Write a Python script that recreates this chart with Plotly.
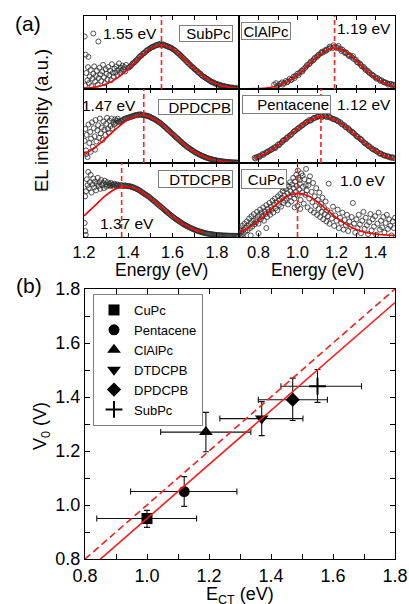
import plotly.graph_objects as go

FONT = "Liberation Sans, Arial, sans-serif"
W, H = 409, 604

# ======================= Panel (a): EL spectra (energy eV, intensity a.u.) =======================
subpc_pts = [(1.203,0.72),(1.242,0.76),(1.265,0.65),(1.208,0.47),(1.220,0.44),(1.205,0.05),(1.210,0.22),(1.215,0.12),
    (1.218,0.30),(1.222,0.08),(1.226,0.17),(1.230,0.26),(1.234,0.04),(1.238,0.14),(1.242,0.21),(1.246,0.31),(1.250,0.10),
    (1.254,0.18),(1.258,0.25),(1.262,0.06),(1.266,0.15),(1.270,0.29),(1.274,0.20),(1.278,0.11),(1.282,0.24),(1.286,0.33),
    (1.290,0.16),(1.294,0.08),(1.298,0.27),(1.302,0.21),(1.306,0.13),(1.310,0.30),(1.314,0.19),(1.318,0.25),(1.322,0.12),
    (1.326,0.34),(1.330,0.22),(1.334,0.17),(1.338,0.28),(1.342,0.23),(1.346,0.31),(1.350,0.19),(1.354,0.26),(1.358,0.35),
    (1.362,0.22),(1.366,0.29),(1.370,0.25),(1.374,0.32),(1.378,0.27),(1.382,0.30),(1.386,0.24),(1.390,0.33),
    (1.40,0.29),(1.41,0.31),(1.42,0.35),(1.43,0.37),(1.44,0.40),(1.45,0.44),(1.46,0.46),(1.47,0.49),(1.48,0.52),(1.49,0.54),
    (1.50,0.56),(1.51,0.58),(1.52,0.59),(1.53,0.60),(1.54,0.61),(1.55,0.60),(1.56,0.61),(1.57,0.59),(1.58,0.58),(1.59,0.57),
    (1.60,0.55),(1.61,0.53),(1.62,0.50),(1.63,0.48),(1.64,0.45),(1.65,0.42),(1.66,0.39),(1.67,0.36),(1.68,0.33),(1.69,0.30),
    (1.70,0.27),(1.71,0.25),(1.72,0.22),(1.73,0.19),(1.74,0.17),(1.75,0.15),(1.76,0.13),(1.77,0.11),(1.78,0.09),(1.79,0.08),
    (1.80,0.07),(1.81,0.06),(1.82,0.05),(1.83,0.04),(1.84,0.03),(1.85,0.03),(1.86,0.02),(1.87,0.02),(1.88,0.01),(1.89,0.01),(1.90,0.01),
    (1.405,0.30),(1.415,0.33),(1.425,0.36),(1.435,0.39),(1.445,0.42),(1.455,0.45),(1.465,0.48),(1.475,0.50),(1.485,0.53),
    (1.495,0.55),(1.505,0.57),(1.515,0.58),(1.525,0.60),(1.535,0.61),(1.545,0.62),(1.555,0.61),(1.565,0.60),(1.575,0.59),
    (1.585,0.57),(1.595,0.56),(1.605,0.54),(1.615,0.52),(1.625,0.49),(1.635,0.46),(1.645,0.43),(1.655,0.40),(1.665,0.37),
    (1.675,0.34),(1.685,0.31),(1.695,0.29),(1.705,0.26),(1.715,0.23),(1.725,0.21),(1.735,0.18),(1.745,0.16),(1.755,0.14),
    (1.765,0.12),(1.775,0.10),(1.785,0.09),(1.795,0.07),(1.805,0.06),(1.815,0.05),(1.825,0.04),(1.835,0.04),(1.845,0.03),
    (1.855,0.02),(1.865,0.02),(1.875,0.01),(1.885,0.01),(1.895,0.01)]
subpc_fit_E = [1.20,1.25,1.30,1.35,1.40,1.45,1.50,1.55,1.60,1.65,1.70,1.75,1.80,1.85,1.90]
subpc_fit_I = [0.0085,0.026,0.068,0.150,0.275,0.424,0.550,0.600,0.550,0.424,0.275,0.150,0.068,0.026,0.0085]

clalpc_pts = [(0.88,0.06),(0.89,0.08),(0.90,0.05),(0.91,0.07),(0.92,0.09),(0.93,0.08),(0.94,0.11),(0.95,0.10),(0.96,0.14),
    (0.97,0.13),(0.98,0.17),(0.99,0.18),(1.00,0.21),(1.01,0.22),(1.02,0.25),(1.03,0.27),(1.04,0.29),(1.05,0.33),(1.06,0.34),
    (1.07,0.38),(1.08,0.39),(1.09,0.43),(1.10,0.44),(1.11,0.47),(1.12,0.49),(1.13,0.50),(1.14,0.53),(1.15,0.54),(1.16,0.55),
    (1.17,0.57),(1.18,0.56),(1.19,0.58),(1.20,0.56),(1.21,0.59),(1.22,0.55),(1.23,0.54),(1.24,0.51),(1.25,0.50),(1.26,0.47),
    (1.27,0.46),(1.28,0.43),(1.29,0.41),(1.30,0.40),(1.31,0.36),(1.32,0.35),(1.33,0.31),(1.34,0.30),(1.35,0.26),(1.36,0.25),
    (1.37,0.22),(1.38,0.20),(1.39,0.18),(1.40,0.16),(1.41,0.15),(1.42,0.13),(1.43,0.12),(1.44,0.10),(1.45,0.09),(1.46,0.08),
    (1.47,0.07),(1.48,0.07),(1.49,0.06),(1.50,0.05),
    (0.895,0.04),(0.925,0.06),(0.945,0.09),(0.965,0.12),(0.985,0.15),(1.005,0.19),(1.025,0.24),(1.045,0.31),(1.065,0.36),
    (1.085,0.41),(1.105,0.46),(1.125,0.51),(1.145,0.52),(1.165,0.58),(1.185,0.60),(1.205,0.57),(1.225,0.52),(1.245,0.49),
    (1.265,0.45),(1.285,0.45),(1.305,0.37),(1.325,0.33),(1.345,0.28),(1.365,0.23),(1.385,0.19),(1.405,0.14),(1.425,0.11),
    (1.445,0.09),(1.465,0.06),(1.485,0.05)]
clalpc_fit_E = [0.70,0.75,0.80,0.85,0.90,0.95,1.00,1.05,1.10,1.15,1.19,1.25,1.30,1.35,1.40,1.45,1.50]
clalpc_fit_I = [0.001,0.002,0.006,0.018,0.046,0.102,0.192,0.313,0.44,0.534,0.56,0.503,0.391,0.263,0.152,0.076,0.033]

dpdcpb_pts = [(1.203,0.30),(1.206,0.46),(1.209,0.17),(1.212,0.38),(1.216,0.08),(1.220,0.52),(1.224,0.27),(1.228,0.42),
    (1.232,0.33),(1.236,0.55),(1.240,0.22),(1.244,0.47),(1.248,0.36),(1.252,0.58),(1.256,0.29),(1.260,0.44),(1.264,0.51),
    (1.268,0.34),(1.272,0.60),(1.276,0.40),(1.280,0.48),(1.284,0.31),(1.288,0.56),(1.292,0.45),(1.296,0.38),(1.300,0.53),
    (1.304,0.61),(1.308,0.46),(1.312,0.41),(1.316,0.57),(1.320,0.50),(1.324,0.60),(1.328,0.47),(1.332,0.55),(1.336,0.52),
    (1.340,0.59),(1.344,0.54),(1.348,0.57),(1.352,0.60),(1.356,0.56),(1.210,0.12),(1.230,0.15),(1.250,0.18),
    (1.36,0.55),(1.37,0.57),(1.38,0.59),(1.39,0.60),(1.40,0.61),(1.41,0.62),(1.42,0.63),(1.43,0.64),(1.44,0.645),(1.45,0.65),
    (1.46,0.65),(1.47,0.645),(1.48,0.64),(1.49,0.63),(1.50,0.62),(1.51,0.605),(1.52,0.59),(1.53,0.57),(1.54,0.55),(1.55,0.525),
    (1.56,0.50),(1.57,0.474),(1.58,0.447),(1.59,0.419),(1.60,0.391),(1.61,0.363),(1.62,0.336),(1.63,0.309),(1.64,0.282),
    (1.65,0.257),(1.66,0.232),(1.67,0.209),(1.68,0.188),(1.69,0.167),(1.70,0.148),(1.71,0.131),(1.72,0.115),(1.73,0.100),
    (1.74,0.087),(1.75,0.076),(1.76,0.065),(1.77,0.056),(1.78,0.047),(1.79,0.040),(1.80,0.034),(1.81,0.028),(1.82,0.024),
    (1.83,0.020),(1.84,0.016),(1.85,0.013),(1.86,0.011),(1.87,0.009),(1.88,0.007),(1.89,0.006),(1.90,0.005),
    (1.365,0.57),(1.375,0.58),(1.385,0.60),(1.395,0.61),(1.405,0.62),(1.415,0.63),(1.425,0.64),(1.435,0.65),(1.445,0.655),
    (1.455,0.66),(1.465,0.65),(1.475,0.645),(1.485,0.64),(1.495,0.63),(1.505,0.61),(1.515,0.60),(1.525,0.58),(1.535,0.56),
    (1.545,0.54),(1.555,0.515),(1.565,0.49),(1.575,0.46),(1.585,0.435),(1.595,0.405),(1.605,0.38),(1.615,0.35),(1.625,0.325),
    (1.635,0.295),(1.645,0.27),(1.655,0.245),(1.665,0.22),(1.675,0.20),(1.685,0.18),(1.695,0.16),(1.705,0.14),(1.715,0.125),
    (1.725,0.11),(1.735,0.095),(1.745,0.082),(1.755,0.07),(1.765,0.06),(1.775,0.052),(1.785,0.044),(1.795,0.037),
    (1.805,0.031),(1.815,0.026),(1.825,0.022),(1.835,0.018),(1.845,0.015),(1.855,0.012),(1.865,0.01),(1.875,0.008),
    (1.885,0.007),(1.895,0.006)]
dpdcpb_fit_E = [1.20,1.25,1.30,1.35,1.40,1.46,1.50,1.55,1.60,1.65,1.70,1.75,1.80,1.85,1.90]
dpdcpb_fit_I = [0.115,0.209,0.336,0.474,0.588,0.645,0.619,0.525,0.391,0.257,0.148,0.076,0.034,0.013,0.005]

pentacene_pts = [(0.78,0.07),(0.79,0.08),(0.80,0.09),(0.81,0.10),(0.82,0.12),(0.83,0.13),(0.84,0.14),(0.85,0.16),(0.86,0.17),
    (0.87,0.19),(0.88,0.21),(0.89,0.22),(0.90,0.25),(0.91,0.26),(0.92,0.28),(0.93,0.31),(0.94,0.32),(0.95,0.35),(0.96,0.37),
    (0.97,0.39),(0.98,0.42),(0.99,0.44),(1.00,0.46),(1.01,0.48),(1.02,0.50),(1.03,0.52),(1.04,0.54),(1.05,0.56),(1.06,0.58),
    (1.07,0.58),(1.08,0.60),(1.09,0.61),(1.10,0.62),(1.11,0.63),(1.12,0.64),(1.13,0.63),(1.14,0.64),(1.15,0.62),(1.16,0.63),
    (1.17,0.61),(1.18,0.60),(1.19,0.59),(1.20,0.58),(1.21,0.56),(1.22,0.55),(1.23,0.52),(1.24,0.51),(1.25,0.48),(1.26,0.47),
    (1.27,0.44),(1.28,0.42),(1.29,0.40),(1.30,0.37),(1.31,0.35),(1.32,0.33),(1.33,0.31),(1.34,0.28),(1.35,0.26),(1.36,0.24),
    (1.37,0.22),(1.38,0.20),(1.39,0.18),(1.40,0.17),(1.41,0.15),(1.42,0.13),(1.43,0.12),(1.44,0.11),(1.45,0.10),(1.46,0.09),
    (1.47,0.08),(1.48,0.07),(1.49,0.07),(1.50,0.06),
    (0.785,0.06),(0.805,0.08),(0.825,0.11),(0.845,0.15),(0.865,0.18),(0.885,0.20),(0.905,0.24),(0.925,0.30),(0.945,0.34),
    (0.965,0.38),(0.985,0.43),(1.005,0.47),(1.025,0.51),(1.045,0.55),(1.065,0.57),(1.085,0.61),(1.105,0.63),(1.125,0.62),
    (1.145,0.63),(1.165,0.62),(1.185,0.59),(1.205,0.57),(1.225,0.53),(1.245,0.49),(1.265,0.45),(1.285,0.41),(1.305,0.36),
    (1.325,0.32),(1.345,0.27),(1.365,0.23),(1.385,0.19),(1.405,0.16),(1.425,0.13),(1.445,0.10),(1.465,0.09),(1.485,0.08)]
pentacene_fit_E = [0.78,0.80,0.85,0.90,0.95,1.00,1.05,1.10,1.13,1.15,1.20,1.25,1.30,1.35,1.40,1.45,1.49]
pentacene_fit_I = [0.066,0.085,0.149,0.238,0.348,0.462,0.560,0.620,0.630,0.625,0.576,0.484,0.370,0.259,0.165,0.096,0.058]

dtdcpb_pts = [(1.203,0.19),(1.206,0.08),(1.210,0.62),(1.213,0.78),(1.216,0.70),(1.219,0.88),(1.222,0.66),(1.226,0.74),
    (1.230,0.84),(1.234,0.60),(1.238,0.71),(1.242,0.79),(1.246,0.67),(1.250,0.75),(1.254,0.63),(1.258,0.72),(1.262,0.80),
    (1.266,0.69),(1.270,0.74),(1.274,0.65),(1.278,0.77),(1.282,0.70),(1.286,0.73),(1.290,0.66),(1.294,0.76),(1.298,0.71),
    (1.302,0.68),(1.306,0.74),(1.310,0.70),(1.314,0.72),(1.318,0.69),(1.322,0.73),(1.326,0.70),(1.330,0.71),(1.334,0.68),
    (1.338,0.72),(1.342,0.70),(1.346,0.69),(1.350,0.71),(1.355,0.70),(1.360,0.69),(1.365,0.70),(1.370,0.70),(1.375,0.69),
    (1.205,0.55),(1.208,0.03),
    (1.38,0.69),(1.39,0.69),(1.40,0.685),(1.41,0.68),(1.42,0.67),(1.43,0.66),(1.44,0.645),(1.45,0.63),(1.46,0.61),(1.47,0.59),
    (1.48,0.57),(1.49,0.55),(1.50,0.525),(1.51,0.50),(1.52,0.476),(1.53,0.451),(1.54,0.425),(1.55,0.40),(1.56,0.374),
    (1.57,0.349),(1.58,0.323),(1.59,0.299),(1.60,0.276),(1.61,0.253),(1.62,0.231),(1.63,0.211),(1.64,0.191),(1.65,0.172),
    (1.66,0.155),(1.67,0.139),(1.68,0.124),(1.69,0.110),(1.70,0.098),(1.71,0.086),(1.72,0.076),(1.73,0.066),(1.74,0.058),
    (1.75,0.05),(1.76,0.045),(1.77,0.04),(1.78,0.035),(1.79,0.03),(1.80,0.027),(1.81,0.025),(1.82,0.022),(1.83,0.02),
    (1.84,0.02),(1.85,0.018),(1.86,0.017),(1.87,0.016),(1.88,0.015),(1.89,0.015),(1.90,0.014),
    (1.385,0.70),(1.395,0.69),(1.405,0.69),(1.415,0.68),(1.425,0.67),(1.435,0.655),(1.445,0.64),(1.455,0.62),(1.465,0.60),
    (1.475,0.58),(1.485,0.56),(1.495,0.54),(1.505,0.515),(1.515,0.49),(1.525,0.465),(1.535,0.44),(1.545,0.415),(1.555,0.39),
    (1.565,0.362),(1.575,0.337),(1.585,0.312),(1.595,0.288),(1.605,0.265),(1.615,0.243),(1.625,0.222),(1.635,0.202),
    (1.645,0.183),(1.655,0.165),(1.665,0.148),(1.675,0.132),(1.685,0.118),(1.695,0.105),(1.705,0.093),(1.715,0.082),
    (1.725,0.072),(1.735,0.063),(1.745,0.055),(1.755,0.048),(1.765,0.043),(1.775,0.038),(1.785,0.033),(1.795,0.029),
    (1.805,0.026),(1.815,0.024),(1.825,0.021),(1.835,0.02),(1.845,0.019),(1.855,0.018),(1.865,0.017),(1.875,0.016),
    (1.885,0.015),(1.895,0.014)]
dtdcpb_fit_E = [1.20,1.25,1.30,1.35,1.385,1.42,1.45,1.50,1.55,1.60,1.65,1.70,1.74]
dtdcpb_fit_I = [0.284,0.427,0.566,0.659,0.680,0.664,0.626,0.525,0.400,0.276,0.172,0.098,0.058]

cupc_pts = [(0.700,0.05),(0.705,0.12),(0.708,0.02),(0.712,0.08),(0.716,0.15),(0.720,0.04),(0.724,0.10),(0.728,0.18),
    (0.732,0.07),(0.736,0.13),(0.740,0.21),(0.744,0.09),(0.748,0.16),(0.752,0.25),(0.756,0.12),(0.760,0.19),(0.764,0.28),
    (0.768,0.14),(0.772,0.22),(0.776,0.31),(0.780,0.17),(0.784,0.24),(0.788,0.20),(0.792,0.34),(0.796,0.27),(0.800,0.18),
    (0.804,0.30),(0.808,0.37),(0.812,0.24),(0.816,0.33),(0.820,0.28),(0.824,0.40),(0.828,0.22),(0.832,0.35),(0.836,0.31),
    (0.840,0.43),(0.844,0.27),(0.848,0.38),(0.852,0.34),(0.856,0.46),(0.860,0.30),(0.864,0.41),(0.868,0.37),(0.872,0.49),
    (0.876,0.33),(0.880,0.44),(0.884,0.52),(0.888,0.39),(0.892,0.47),(0.896,0.36),(0.900,0.55),(0.904,0.43),(0.908,0.50),
    (0.912,0.58),(0.916,0.41),(0.920,0.53),(0.924,0.62),(0.928,0.46),(0.932,0.56),(0.936,0.49),(0.940,0.65),(0.944,0.52),
    (0.948,0.59),(0.952,0.44),(0.956,0.68),(0.960,0.55),(0.964,0.62),(0.968,0.48),(0.972,0.71),(0.976,0.58),(0.980,0.66),
    (0.984,0.52),(0.988,0.75),(0.992,0.61),(0.996,0.69),(1.000,0.56),(1.004,0.80),(1.008,0.64),(1.012,0.72),(1.016,0.50),
    (1.020,0.86),(1.024,0.60),(1.028,0.68),(1.032,0.45),(1.036,0.78),(1.040,0.57),(1.044,0.92),(1.048,0.63),(1.052,0.40),
    (1.056,0.70),(1.060,0.52),(1.064,0.82),(1.068,0.36),(1.072,0.61),(1.076,0.47),(1.080,0.73),(1.084,0.33),(1.088,0.55),
    (1.092,0.42),(1.096,0.66),(1.100,0.30),(1.104,0.50),(1.108,0.38),(1.112,0.60),(1.116,0.27),(1.120,0.45),(1.124,0.34),
    (1.128,0.53),(1.132,0.24),(1.136,0.40),(1.140,0.31),(1.144,0.48),(1.148,0.21),(1.152,0.36),(1.156,0.28),(1.160,0.72),
    (1.164,0.18),(1.170,0.33),(1.176,0.25),(1.182,0.41),(1.188,0.15),(1.194,0.29),(1.200,0.22),(1.206,0.37),(1.212,0.12),
    (1.218,0.26),(1.224,0.19),(1.230,0.33),(1.236,0.10),(1.242,0.23),(1.248,0.16),(1.254,0.30),(1.260,0.08),(1.266,0.21),
    (1.272,0.14),(1.278,0.27),(1.284,0.46),(1.290,0.18),(1.296,0.06),(1.302,0.24),(1.308,0.12),(1.314,0.30),(1.320,0.17),
    (1.326,0.05),(1.332,0.22),(1.338,0.34),(1.344,0.11),(1.350,0.26),(1.356,0.16),(1.362,0.04),(1.368,0.20),(1.374,0.31),
    (1.380,0.09),(1.386,0.24),(1.392,0.14),(1.398,0.28),(1.404,0.03),(1.410,0.18),(1.416,0.33),(1.422,0.10),(1.428,0.22),
    (1.434,0.13),(1.440,0.27),(1.446,0.06),(1.452,0.19),(1.458,0.30),(1.464,0.11),(1.470,0.24),(1.476,0.15),(1.482,0.02),
    (1.488,0.21),(1.494,0.12),(1.500,0.26),
    (0.962,0.74),(0.978,0.80),(0.994,0.84),(1.002,0.90),(1.010,0.77),(1.026,0.83),(1.042,0.70),(1.058,0.76),(0.946,0.70),
    (0.930,0.66),(1.000,0.42),(1.014,0.38),(0.985,0.40),(0.720,0.00),(0.760,0.02),(0.800,0.05),(0.840,0.12)]
cupc_fit_E = [0.70,0.75,0.80,0.85,0.90,0.95,1.00,1.05,1.10,1.15,1.20,1.25,1.30,1.35,1.40,1.45,1.50]
cupc_fit_I = [0.065,0.125,0.215,0.335,0.46,0.555,0.59,0.56,0.48,0.37,0.26,0.17,0.10,0.06,0.04,0.028,0.02]

# panel order: SubPc, ClAlPc, DPDCPB, Pentacene, DTDCPB, CuPc
panel_names = ["SubPc", "ClAlPc", "DPDCPB", "Pentacene", "DTDCPB", "CuPc"]
panel_peaks = [1.55, 1.19, 1.47, 1.12, 1.37, 1.00]
panel_peak_labels = ["1.55 eV", "1.19 eV", "1.47 eV", "1.12 eV", "1.37 eV", "1.0 eV"]
panel_pts = [subpc_pts, clalpc_pts, dpdcpb_pts, pentacene_pts, dtdcpb_pts, cupc_pts]
panel_fit = [(subpc_fit_E, subpc_fit_I), (clalpc_fit_E, clalpc_fit_I), (dpdcpb_fit_E, dpdcpb_fit_I),
             (pentacene_fit_E, pentacene_fit_I), (dtdcpb_fit_E, dtdcpb_fit_I), (cupc_fit_E, cupc_fit_I)]

left_ticks = [1.2, 1.3, 1.4, 1.5, 1.6, 1.7, 1.8, 1.9]
left_ticktext = ["1.2", " ", "1.4", " ", "1.6", " ", "1.8", " "]
right_ticks = [0.7, 0.8, 0.9, 1.0, 1.1, 1.2, 1.3, 1.4, 1.5]
right_ticktext = [" ", "0.8", " ", "1.0", " ", "1.2", " ", "1.4", " "]

# ======================= Panel (b): V0 vs E_CT =======================
materials = ["CuPc", "Pentacene", "ClAlPc", "DTDCPB", "DPDCPB", "SubPc"]
symbols = ["square", "circle", "triangle-up", "triangle-down", "diamond", "cross-thin"]
ect = [1.00, 1.12, 1.19, 1.37, 1.47, 1.55]
v0 = [0.95, 1.05, 1.27, 1.32, 1.39, 1.44]
ect_err_plus = [0.16, 0.17, 0.145, 0.133, 0.112, 0.142]
ect_err_minus = [0.162, 0.173, 0.146, 0.135, 0.111, 0.118]
v0_err_plus = [0.03, 0.055, 0.073, 0.063, 0.08, 0.062]
v0_err_minus = [0.033, 0.055, 0.073, 0.063, 0.077, 0.06]
line_x = [0.8, 1.8]
fit_line_y = [0.75, 1.75]
unity_line_y = [0.8, 1.8]
b_ticks = [0.8, 0.9, 1.0, 1.1, 1.2, 1.3, 1.4, 1.5, 1.6, 1.7, 1.8]
b_ticktext = ["0.8", " ", "1.0", " ", "1.2", " ", "1.4", " ", "1.6", " ", "1.8"]

# ======================= Layout geometry (pixels) =======================
def px_x(p): return p / W
def px_y(p): return 1 - p / H

col_dom = [[px_x(84), px_x(239)], [px_x(239), px_x(395)]]
row_dom = [[px_y(89), px_y(16)], [px_y(163), px_y(89)], [px_y(237), px_y(163)]]

fig = go.Figure()
layout = dict(width=W, height=H, margin=dict(l=0, r=0, t=0, b=0, autoexpand=False),
              paper_bgcolor="white", plot_bgcolor="white", showlegend=True,
              font=dict(family=FONT, color="black"))
shapes = []
annotations = []

def suffix(n): return "" if n == 1 else str(n)

for i in range(6):
    n = i + 1
    s = suffix(n)
    xa, ya = "x" + s, "y" + s
    row, col = i // 2, i % 2
    pts = panel_pts[i]
    fig.add_trace(go.Scatter(x=[p[0] for p in pts], y=[p[1] for p in pts], mode="markers", xaxis=xa, yaxis=ya,
                             marker=dict(symbol="circle-open", size=5, color="#2a2a2a", line=dict(width=0.8)),
                             showlegend=False, hoverinfo="skip"))
    fe, fi = panel_fit[i]
    fig.add_trace(go.Scatter(x=fe, y=fi, mode="lines", xaxis=xa, yaxis=ya, line=dict(color="#ff0000", width=1.6, shape="spline"),
                             showlegend=False, hoverinfo="skip"))
    shapes.append(dict(type="line", xref=xa, yref=ya + " domain", x0=panel_peaks[i], x1=panel_peaks[i], y0=0, y1=1,
                       line=dict(color="#ff2020", width=1.6, dash="5px,3px"), layer="above"))
    left = col == 0
    layout["xaxis" + s] = dict(domain=col_dom[col], range=[1.2, 1.9] if left else [0.7, 1.5], anchor=ya,
                               tickvals=left_ticks if left else right_ticks,
                               ticktext=left_ticktext if left else right_ticktext,
                               showticklabels=(row == 2), ticks="inside", ticklen=4, tickwidth=1, tickcolor="black",
                               showline=True, linecolor="black", linewidth=1, mirror="ticks", automargin=False,
                               showgrid=False, zeroline=False, tickfont=dict(size=16.5, family=FONT, color="black"))
    layout["yaxis" + s] = dict(domain=row_dom[row], range=[0, 1], anchor=xa, showticklabels=False, ticks="",
                               showline=True, linecolor="black", linewidth=1, mirror=True, automargin=False,
                               showgrid=False, zeroline=False)

# Panel (b)
for k in range(len(materials)):
    sym = symbols[k]
    msize = 12 if sym in ("triangle-up", "triangle-down", "cross-thin") else 11
    fig.add_trace(go.Scatter(x=[ect[k]], y=[v0[k]], mode="markers", name=materials[k], xaxis="x7", yaxis="y7",
                             marker=dict(symbol=sym, size=msize, color="black",
                                         line=dict(width=2 if sym == "cross-thin" else 0, color="black")),
                             error_x=dict(type="data", symmetric=False, array=[ect_err_plus[k]],
                                          arrayminus=[ect_err_minus[k]], color="#111", thickness=1.1, width=3),
                             error_y=dict(type="data", symmetric=False, array=[v0_err_plus[k]],
                                          arrayminus=[v0_err_minus[k]], color="#111", thickness=1.1, width=3)))
fig.add_trace(go.Scatter(x=line_x, y=unity_line_y, mode="lines", xaxis="x7", yaxis="y7", showlegend=False,
                         line=dict(color="#ff1a1a", width=1.6, dash="7px,4px"), hoverinfo="skip"))
fig.add_trace(go.Scatter(x=line_x, y=fit_line_y, mode="lines", xaxis="x7", yaxis="y7", showlegend=False,
                         line=dict(color="#ff1a1a", width=1.6), hoverinfo="skip"))

b_axis = dict(range=[0.8, 1.8], tickvals=b_ticks, ticktext=b_ticktext, ticks="inside", ticklen=5, tickwidth=1,
              tickcolor="black", showline=True, linecolor="black", linewidth=1, mirror="ticks", automargin=False,
              showgrid=False, zeroline=False, tickfont=dict(size=18, family=FONT, color="black"))
layout["xaxis7"] = dict(domain=[px_x(85), px_x(395)], anchor="y7", **b_axis)
layout["yaxis7"] = dict(domain=[px_y(559), px_y(289)], anchor="x7", **b_axis)

layout["legend"] = dict(x=px_x(93), y=px_y(294), xanchor="left", yanchor="top", bgcolor="rgba(255,255,255,0)",
                        bordercolor="#808080", borderwidth=1, font=dict(size=13, family=FONT, color="black"),
                        tracegroupgap=0)

# Text labels
def txt(x, y, s, size, angle=0):
    annotations.append(dict(x=px_x(x), y=px_y(y), xref="paper", yref="paper", text=s, showarrow=False,
                            font=dict(size=size, family=FONT, color="black"), textangle=angle,
                            xanchor="center", yanchor="middle"))

def box(cx, cy, w, h, s):
    annotations.append(dict(x=px_x(cx), y=px_y(cy), xref="paper", yref="paper", text=s, showarrow=False,
                            font=dict(size=15, family=FONT, color="black"), width=w - 6, height=h - 4,
                            align="right", valign="middle", bordercolor="#808080", borderwidth=1, borderpad=1,
                            bgcolor="white", xanchor="center", yanchor="middle"))

txt(28, 23, "(a)", 21)
txt(29, 285, "(b)", 21)
txt(42, 121, "EL intensity (a.u.)", 18.5, -90)
txt(161.5, 269.5, "Energy (eV)", 17.5)
txt(317.5, 269.5, "Energy (eV)", 17.5)
txt(41, 426, "V<sub>0</sub> (V)", 18, -90)
txt(240, 595, "E<sub>CT</sub> (eV)", 18)

box_geom = [(206.3, 33, 56, 17), (266, 31, 52, 18), (195.3, 106.8, 77, 16),
            (286, 104.3, 91, 19), (195.3, 179, 77, 18), (264.3, 178.8, 48, 20)]
label_pos = [(130, 33.7), (364.3, 28.7), (109, 105.3), (364.3, 104.3), (126.7, 223.3), (362.7, 180.7)]
for i in range(6):
    cx, cy, w, h = box_geom[i]
    box(cx, cy, w, h, panel_names[i])
    lx, ly = label_pos[i]
    txt(lx, ly, panel_peak_labels[i], 15.5)

layout["shapes"] = shapes
layout["annotations"] = annotations
fig.update_layout(**layout)
fig.write_html("out.html", config={"displayModeBar": False},
               post_script="document.body.style.margin='0px';document.body.style.overflow='hidden';")
